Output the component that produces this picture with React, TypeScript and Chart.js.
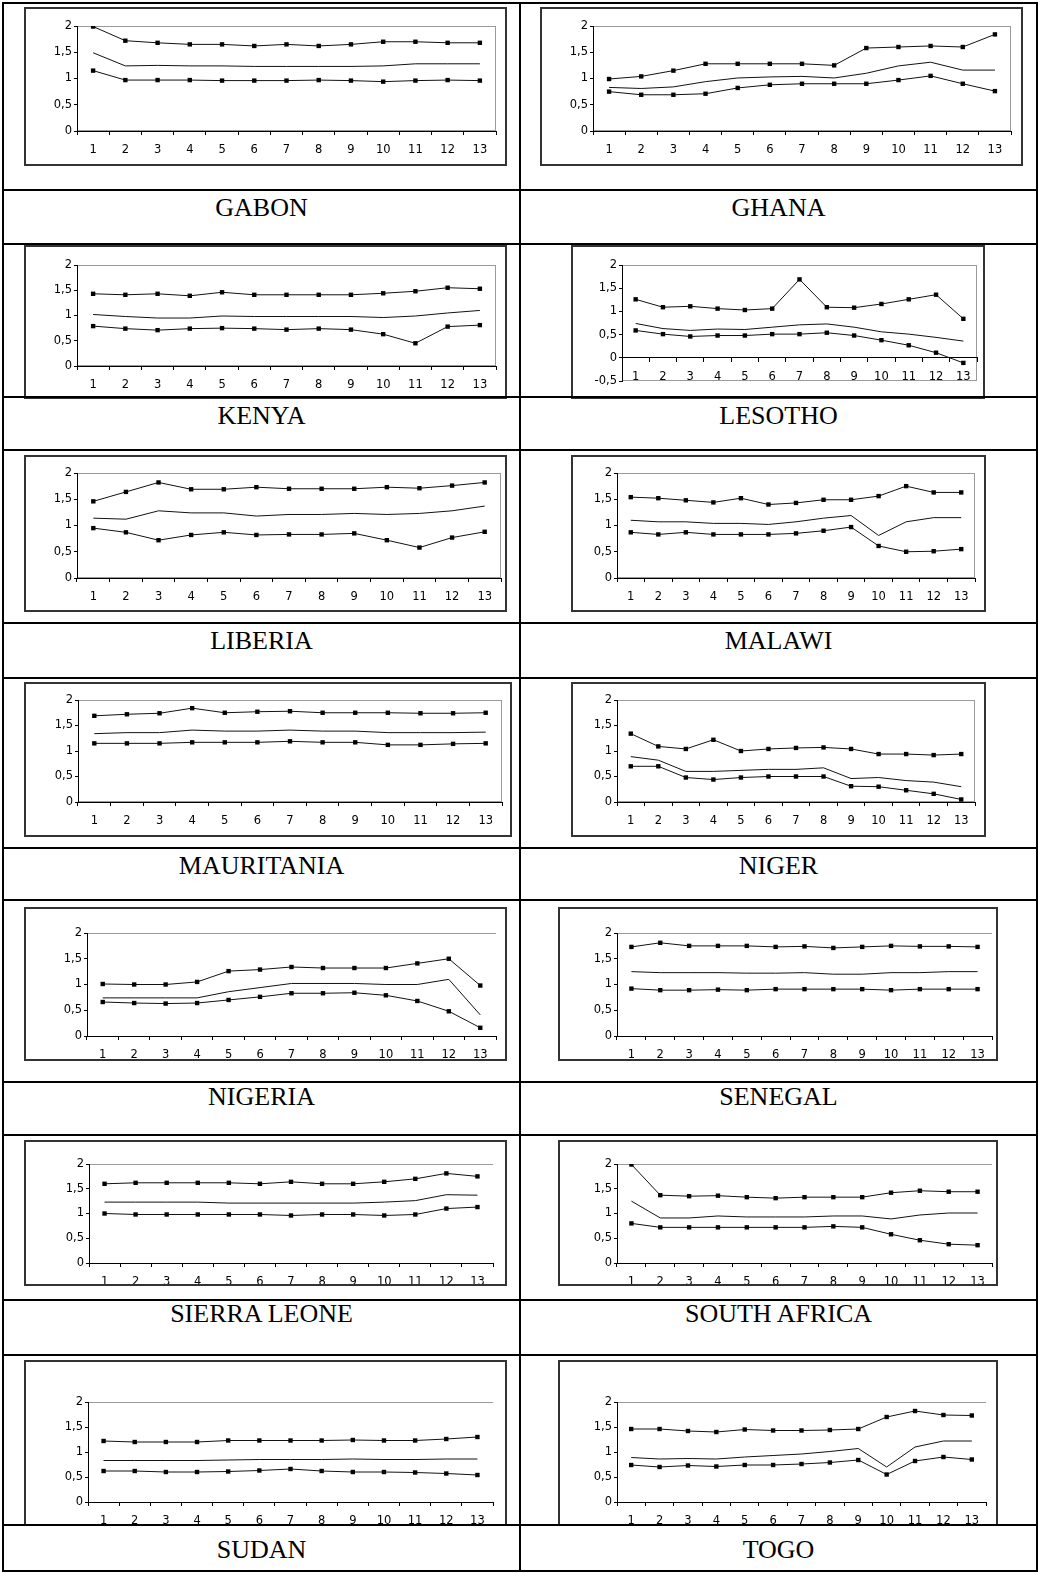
import React, { useEffect, useRef } from 'react';
import { Chart, registerables } from 'chart.js';
Chart.register(...registerables);

const categories = ['1', '2', '3', '4', '5', '6', '7', '8', '9', '10', '11', '12', '13'];
const yTickStep = 0.5;
const yMaxValue = 2;

const gabonUpper = [1.99, 1.72, 1.68, 1.65, 1.65, 1.62, 1.65, 1.62, 1.65, 1.7, 1.7, 1.68, 1.68];
const gabonMiddle = [1.49, 1.24, 1.25, 1.24, 1.24, 1.23, 1.23, 1.23, 1.23, 1.24, 1.28, 1.28, 1.28];
const gabonLower = [1.15, 0.97, 0.97, 0.97, 0.96, 0.96, 0.96, 0.97, 0.96, 0.94, 0.96, 0.97, 0.96];

const ghanaUpper = [0.99, 1.04, 1.15, 1.28, 1.28, 1.28, 1.28, 1.25, 1.58, 1.6, 1.62, 1.6, 1.84];
const ghanaMiddle = [0.83, 0.81, 0.84, 0.94, 1.01, 1.03, 1.04, 1.01, 1.1, 1.24, 1.31, 1.16, 1.16];
const ghanaLower = [0.75, 0.69, 0.69, 0.71, 0.82, 0.88, 0.9, 0.9, 0.9, 0.97, 1.05, 0.9, 0.76];

const kenyaUpper = [1.43, 1.41, 1.43, 1.39, 1.46, 1.41, 1.41, 1.41, 1.41, 1.44, 1.48, 1.55, 1.53];
const kenyaMiddle = [1.02, 0.98, 0.95, 0.95, 0.99, 0.98, 0.98, 0.98, 0.98, 0.96, 0.99, 1.05, 1.1];
const kenyaLower = [0.79, 0.74, 0.71, 0.74, 0.75, 0.74, 0.72, 0.74, 0.72, 0.63, 0.45, 0.78, 0.81];

const lesothoUpper = [1.26, 1.09, 1.11, 1.06, 1.03, 1.06, 1.69, 1.09, 1.08, 1.16, 1.26, 1.36, 0.84];
const lesothoMiddle = [0.74, 0.63, 0.59, 0.62, 0.61, 0.66, 0.71, 0.73, 0.66, 0.56, 0.51, 0.44, 0.36];
const lesothoLower = [0.59, 0.51, 0.46, 0.48, 0.48, 0.51, 0.51, 0.54, 0.48, 0.38, 0.27, 0.11, -0.11];

const liberiaUpper = [1.46, 1.64, 1.82, 1.69, 1.69, 1.73, 1.7, 1.7, 1.7, 1.73, 1.71, 1.76, 1.82];
const liberiaMiddle = [1.14, 1.12, 1.28, 1.24, 1.24, 1.18, 1.21, 1.21, 1.23, 1.21, 1.23, 1.28, 1.37];
const liberiaLower = [0.95, 0.87, 0.72, 0.82, 0.87, 0.82, 0.83, 0.83, 0.85, 0.72, 0.58, 0.77, 0.88];

const malawiUpper = [1.54, 1.52, 1.48, 1.44, 1.52, 1.4, 1.43, 1.49, 1.49, 1.56, 1.75, 1.63, 1.63];
const malawiMiddle = [1.1, 1.07, 1.07, 1.04, 1.04, 1.02, 1.07, 1.14, 1.19, 0.81, 1.07, 1.15, 1.15];
const malawiLower = [0.87, 0.83, 0.87, 0.83, 0.83, 0.83, 0.85, 0.9, 0.97, 0.61, 0.5, 0.51, 0.55];

const mauritaniaUpper = [1.69, 1.72, 1.74, 1.84, 1.75, 1.77, 1.78, 1.75, 1.75, 1.75, 1.74, 1.74, 1.75];
const mauritaniaMiddle = [1.34, 1.36, 1.36, 1.41, 1.39, 1.39, 1.41, 1.39, 1.39, 1.36, 1.36, 1.36, 1.37];
const mauritaniaLower = [1.15, 1.15, 1.15, 1.17, 1.17, 1.17, 1.19, 1.17, 1.17, 1.12, 1.12, 1.14, 1.15];

const nigerUpper = [1.34, 1.09, 1.04, 1.22, 1.0, 1.04, 1.06, 1.07, 1.04, 0.94, 0.94, 0.92, 0.94];
const nigerMiddle = [0.89, 0.82, 0.6, 0.6, 0.62, 0.64, 0.64, 0.67, 0.46, 0.48, 0.42, 0.39, 0.3];
const nigerLower = [0.7, 0.7, 0.48, 0.44, 0.48, 0.5, 0.5, 0.5, 0.31, 0.3, 0.23, 0.16, 0.05];

const nigeriaUpper = [1.01, 1.0, 1.0, 1.05, 1.26, 1.29, 1.34, 1.32, 1.32, 1.32, 1.41, 1.5, 0.98];
const nigeriaMiddle = [0.74, 0.74, 0.74, 0.74, 0.86, 0.94, 1.02, 1.02, 1.02, 1.0, 1.0, 1.1, 0.41];
const nigeriaLower = [0.66, 0.64, 0.63, 0.64, 0.7, 0.76, 0.83, 0.83, 0.84, 0.79, 0.68, 0.48, 0.16];

const senegalUpper = [1.73, 1.81, 1.75, 1.75, 1.75, 1.73, 1.74, 1.71, 1.73, 1.75, 1.74, 1.74, 1.73];
const senegalMiddle = [1.25, 1.23, 1.23, 1.23, 1.22, 1.22, 1.23, 1.2, 1.2, 1.23, 1.23, 1.25, 1.25];
const senegalLower = [0.92, 0.89, 0.89, 0.9, 0.89, 0.91, 0.91, 0.91, 0.91, 0.89, 0.91, 0.91, 0.91];

const sierraLeoneUpper = [1.6, 1.62, 1.62, 1.62, 1.62, 1.6, 1.64, 1.6, 1.6, 1.64, 1.7, 1.81, 1.75];
const sierraLeoneMiddle = [1.23, 1.23, 1.23, 1.23, 1.21, 1.21, 1.21, 1.21, 1.21, 1.23, 1.26, 1.38, 1.37];
const sierraLeoneLower = [1.0, 0.98, 0.98, 0.98, 0.98, 0.98, 0.96, 0.98, 0.98, 0.96, 0.98, 1.1, 1.13];

const southAfricaUpper = [1.99, 1.37, 1.35, 1.36, 1.33, 1.31, 1.33, 1.33, 1.33, 1.42, 1.46, 1.44, 1.44];
const southAfricaMiddle = [1.25, 0.91, 0.91, 0.95, 0.93, 0.93, 0.93, 0.95, 0.95, 0.89, 0.97, 1.01, 1.01];
const southAfricaLower = [0.8, 0.72, 0.72, 0.72, 0.72, 0.72, 0.72, 0.74, 0.72, 0.58, 0.46, 0.38, 0.36];

const sudanUpper = [1.22, 1.2, 1.2, 1.2, 1.23, 1.23, 1.23, 1.23, 1.24, 1.23, 1.23, 1.26, 1.3];
const sudanMiddle = [0.83, 0.83, 0.83, 0.83, 0.84, 0.85, 0.85, 0.85, 0.86, 0.85, 0.85, 0.86, 0.86];
const sudanLower = [0.62, 0.62, 0.6, 0.6, 0.61, 0.63, 0.66, 0.62, 0.6, 0.6, 0.59, 0.57, 0.54];

const togoUpper = [1.46, 1.46, 1.42, 1.4, 1.45, 1.43, 1.43, 1.44, 1.46, 1.7, 1.82, 1.74, 1.73];
const togoMiddle = [0.89, 0.86, 0.87, 0.86, 0.9, 0.93, 0.96, 1.01, 1.07, 0.7, 1.1, 1.22, 1.22];
const togoLower = [0.74, 0.7, 0.73, 0.71, 0.74, 0.74, 0.76, 0.79, 0.84, 0.55, 0.82, 0.9, 0.85];

type PanelDef = {
  name: string;
  upper: number[];
  middle: number[];
  lower: number[];
  yMin: number;
  box: number[]; // L T R B
  plot: number[]; // left right top bottom
  frame: 'box' | 'top';
  col: number;
  labelY: number;
};

const panels: PanelDef[] = [
  { name: 'GABON', upper: gabonUpper, middle: gabonMiddle, lower: gabonLower, yMin: 0, box: [24, 7, 507, 166], plot: [77, 496, 26, 131], frame: 'box', col: 0, labelY: 208 },
  { name: 'GHANA', upper: ghanaUpper, middle: ghanaMiddle, lower: ghanaLower, yMin: 0, box: [540, 7, 1023, 166], plot: [593, 1011, 26, 131], frame: 'box', col: 1, labelY: 208 },
  { name: 'KENYA', upper: kenyaUpper, middle: kenyaMiddle, lower: kenyaLower, yMin: 0, box: [24, 245, 507, 399], plot: [77, 496, 265, 366], frame: 'box', col: 0, labelY: 416 },
  { name: 'LESOTHO', upper: lesothoUpper, middle: lesothoMiddle, lower: lesothoLower, yMin: -0.5, box: [571, 245, 985, 399], plot: [622, 977, 265, 381], frame: 'box', col: 1, labelY: 416 },
  { name: 'LIBERIA', upper: liberiaUpper, middle: liberiaMiddle, lower: liberiaLower, yMin: 0, box: [24, 455, 507, 612], plot: [77, 502, 473, 578], frame: 'box', col: 0, labelY: 641 },
  { name: 'MALAWI', upper: malawiUpper, middle: malawiMiddle, lower: malawiLower, yMin: 0, box: [571, 455, 986, 612], plot: [617, 975, 473, 578], frame: 'box', col: 1, labelY: 641 },
  { name: 'MAURITANIA', upper: mauritaniaUpper, middle: mauritaniaMiddle, lower: mauritaniaLower, yMin: 0, box: [24, 682, 512, 837], plot: [78, 502, 700, 802], frame: 'box', col: 0, labelY: 866 },
  { name: 'NIGER', upper: nigerUpper, middle: nigerMiddle, lower: nigerLower, yMin: 0, box: [571, 682, 986, 837], plot: [617, 975, 700, 802], frame: 'box', col: 1, labelY: 866 },
  { name: 'NIGERIA', upper: nigeriaUpper, middle: nigeriaMiddle, lower: nigeriaLower, yMin: 0, box: [24, 907, 507, 1061], plot: [87, 496, 933, 1036], frame: 'top', col: 0, labelY: 1097 },
  { name: 'SENEGAL', upper: senegalUpper, middle: senegalMiddle, lower: senegalLower, yMin: 0, box: [558, 907, 998, 1061], plot: [617, 995, 933, 1036], frame: 'top', col: 1, labelY: 1097 },
  { name: 'SIERRA LEONE', upper: sierraLeoneUpper, middle: sierraLeoneMiddle, lower: sierraLeoneLower, yMin: 0, box: [24, 1140, 507, 1286], plot: [89, 493, 1164, 1263], frame: 'top', col: 0, labelY: 1314 },
  { name: 'SOUTH AFRICA', upper: southAfricaUpper, middle: southAfricaMiddle, lower: southAfricaLower, yMin: 0, box: [558, 1140, 998, 1286], plot: [617, 995, 1164, 1263], frame: 'top', col: 1, labelY: 1314 },
  { name: 'SUDAN', upper: sudanUpper, middle: sudanMiddle, lower: sudanLower, yMin: 0, box: [24, 1360, 507, 1526], plot: [88, 493, 1402, 1502], frame: 'top', col: 0, labelY: 1550 },
  { name: 'TOGO', upper: togoUpper, middle: togoMiddle, lower: togoLower, yMin: 0, box: [558, 1360, 998, 1526], plot: [617, 986, 1402, 1502], frame: 'top', col: 1, labelY: 1550 },
];

const hLines = [2, 189, 243, 396, 449, 622, 677, 847, 899, 1081, 1134, 1299, 1354, 1524, 1570];
const vLines = [2, 519, 1036];

const BW = 2;
const TICK_FONT = { family: '"DejaVu Sans", Verdana, sans-serif', size: 11.5 };

const plotFrame = {
  id: 'plotFrame',
  beforeDraw(chart: any, _args: any, opts: any) {
    const { ctx, chartArea: a } = chart;
    ctx.save();
    ctx.strokeStyle = '#9a9a9a';
    ctx.lineWidth = 1;
    ctx.beginPath();
    ctx.moveTo(a.left, Math.round(a.top) + 0.5);
    ctx.lineTo(a.right, Math.round(a.top) + 0.5);
    if (opts && opts.full) {
      ctx.moveTo(Math.round(a.right) - 0.5, a.top);
      ctx.lineTo(Math.round(a.right) - 0.5, a.bottom);
      ctx.moveTo(a.left, Math.round(a.bottom) - 0.5);
      ctx.lineTo(a.right, Math.round(a.bottom) - 0.5);
    }
    ctx.stroke();
    ctx.restore();
  },
};

function ChartPanel({ p }: { p: PanelDef }) {
  const ref = useRef<HTMLCanvasElement | null>(null);
  const [L, T, R, B] = p.box;
  const [pL, pR, pT, pB] = p.plot;
  const cx0 = L + BW;
  const cy0 = T + BW;
  const cw = R - L - 2 * BW;
  const ch = B - T - 2 * BW;

  useEffect(() => {
    if (!ref.current) return;
    const padTop = pT - cy0;
    const padRight = cx0 + cw - pR;
    const yw = pL - cx0;
    const xh = cy0 + ch - pB;
    const axisAtZero = p.yMin < 0;
    const lineDs = (data: number[], marker: boolean) => ({
      data,
      borderColor: '#111',
      borderWidth: 1,
      pointStyle: 'rect',
      pointRadius: marker ? 3.1 : 0,
      pointBackgroundColor: '#000',
      pointBorderWidth: 0,
      tension: 0,
      fill: false,
    });
    const chart = new Chart(ref.current, {
      type: 'line',
      data: {
        labels: categories,
        datasets: [lineDs(p.upper, true), lineDs(p.middle, false), lineDs(p.lower, true)],
      },
      plugins: [plotFrame],
      options: {
        animation: false,
        responsive: false,
        events: [],
        layout: { padding: { top: padTop, right: padRight, left: 0, bottom: axisAtZero ? xh : 0 } },
        plugins: {
          legend: { display: false },
          tooltip: { enabled: false },
          plotFrame: { full: p.frame === 'box' },
        } as any,
        scales: {
          x: {
            type: 'category',
            offset: true,
            position: axisAtZero ? ({ y: 0 } as any) : 'bottom',
            grid: { offset: true, drawOnChartArea: false, drawTicks: true, tickLength: 4, color: '#000', lineWidth: 1 },
            border: { display: true, color: '#000', width: 1 },
            ticks: { color: '#000', font: TICK_FONT, padding: 8, maxRotation: 0, autoSkip: false },
            afterFit: (s: any) => {
              if (!axisAtZero) s.height = xh;
            },
          },
          y: {
            min: p.yMin,
            max: yMaxValue,
            grid: { drawOnChartArea: false, drawTicks: true, tickLength: 3, color: '#000', lineWidth: 1 },
            border: { display: true, color: '#000', width: 1 },
            ticks: {
              stepSize: yTickStep,
              color: '#000',
              font: TICK_FONT,
              padding: 2,
              callback: (v: any) => String(v).replace('.', ','),
            },
            afterFit: (s: any) => {
              s.width = yw;
            },
          },
        },
      } as any,
    });
    return () => chart.destroy();
  }, []);

  return (
    <div
      style={{
        position: 'absolute',
        left: L,
        top: T,
        width: R - L,
        height: B - T,
        boxSizing: 'border-box',
        border: `${BW}px solid #333`,
        background: '#fff',
      }}
    >
      <canvas ref={ref} width={cw} height={ch} style={{ display: 'block', width: cw, height: ch }} />
    </div>
  );
}

export default function App() {
  return (
    <div style={{ position: 'absolute', left: 0, top: 0, width: 1038, height: 1573, background: '#fff', overflow: 'hidden' }}>
      {panels.map((p) => (
        <ChartPanel key={p.name} p={p} />
      ))}
      {panels.map((p) => (
        <div
          key={p.name + '-label'}
          style={{
            position: 'absolute',
            left: p.col === 0 ? 4 : 521,
            width: 515,
            top: p.labelY - 13,
            height: 26,
            lineHeight: '26px',
            fontSize: 26,
            fontFamily: '"Liberation Serif", "Times New Roman", serif',
            textAlign: 'center',
            color: '#000',
            whiteSpace: 'nowrap',
          }}
        >
          {p.name}
        </div>
      ))}
      {hLines.map((y) => (
        <div key={'h' + y} style={{ position: 'absolute', left: 2, width: 1036, top: y, height: 2, background: '#000' }} />
      ))}
      {vLines.map((x) => (
        <div key={'v' + x} style={{ position: 'absolute', left: x, width: 2, top: 2, height: 1570, background: '#000' }} />
      ))}
    </div>
  );
}
